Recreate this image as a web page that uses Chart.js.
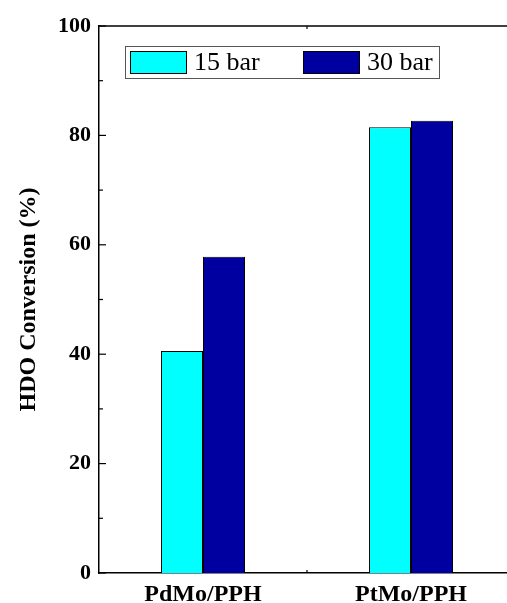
<!DOCTYPE html>
<html>
<head>
<meta charset="utf-8">
<script src="https://cdn.jsdelivr.net/npm/chart.js@4/dist/chart.umd.min.js"></script>
<style>
  html, body { margin: 0; padding: 0; background: #fff; overflow: hidden; }
  #wrap { width: 530px; height: 603px; }
</style>
</head>
<body>
<div id="wrap"><canvas id="myChart" width="530" height="603"></canvas></div>
<script>
'use strict';

// data
var categories = ['PdMo/PPH', 'PtMo/PPH'];
var seriesNames = ['15 bar', '30 bar'];
var bar15 = [40.6, 81.5];
var bar30 = [57.8, 82.7];
var seriesColors = ['#00ffff', '#0000a0'];
var yMin = 0;
var yMax = 100;
var yStep = 20;

var serif = '"Liberation Serif", "Times New Roman", serif';

// inward ticks, top frame line and the boxed legend
var framePlugin = {
  id: 'frame',
  afterDraw: function (chart) {
    var ctx = chart.ctx;
    var area = chart.chartArea;
    var y = chart.scales.y;
    var x = chart.scales.x;
    ctx.save();
    ctx.strokeStyle = '#000';
    ctx.lineWidth = 1.5;
    ctx.beginPath();
    ctx.moveTo(area.left, area.top);
    ctx.lineTo(area.right, area.top);
    ctx.stroke();

    ctx.lineWidth = 1.2;
    for (var v = yMin; v <= yMax; v += yStep / 2) {
      var py = y.getPixelForValue(v);
      var len = (v % yStep === 0) ? 7 : 4;
      ctx.beginPath();
      ctx.moveTo(area.left, py);
      ctx.lineTo(area.left + len, py);
      ctx.stroke();
    }
    // category boundary ticks
    var bx = (x.getPixelForValue(0) + x.getPixelForValue(1)) / 2;
    ctx.beginPath();
    ctx.moveTo(bx, area.bottom);
    ctx.lineTo(bx, area.bottom - 3);
    ctx.moveTo(bx, area.top);
    ctx.lineTo(bx, area.top + 3);
    ctx.stroke();

    // legend box
    ctx.lineWidth = 1;
    ctx.strokeStyle = '#555';
    ctx.strokeRect(125.5, 46.5, 314, 32);
    var swX = [130, 303];
    var ds = chart.data.datasets;
    ctx.font = '26px ' + serif;
    ctx.textBaseline = 'middle';
    ctx.textAlign = 'left';
    for (var i = 0; i < ds.length; i++) {
      ctx.fillStyle = ds[i].backgroundColor;
      ctx.fillRect(swX[i], 51, 56, 22);
      ctx.strokeStyle = '#000';
      ctx.strokeRect(swX[i] + 0.5, 51.5, 56, 22);
      ctx.fillStyle = '#000';
      ctx.fillText(ds[i].label, swX[i] + 64, 63);
    }
    ctx.restore();
  }
};

var ctx = document.getElementById('myChart').getContext('2d');

var chart = new Chart(ctx, {
  type: 'bar',
  data: {
    labels: categories,
    datasets: [{
      label: seriesNames[0],
      data: bar15,
      backgroundColor: seriesColors[0],
      borderColor: '#000',
      borderWidth: 1
    },
    {
      label: seriesNames[1],
      data: bar30,
      backgroundColor: seriesColors[1],
      borderColor: '#000',
      borderWidth: 1
    }]
  },
  options: {
    responsive: false,
    animation: false,
    devicePixelRatio: 1,
    layout: { padding: { left: 0, top: 26, right: 15, bottom: 0 } },
    plugins: {
      legend: { display: false },
      tooltip: { enabled: false }
    },
    datasets: {
      bar: { categoryPercentage: 0.404, barPercentage: 1.0 }
    },
    scales: {
      x: {
        grid: { display: false, drawTicks: false },
        border: { display: true, color: '#000', width: 1.5 },
        ticks: {
          color: '#000',
          padding: 7,
          font: { family: serif, size: 24, weight: 'bold' }
        },
        afterFit: function (scale) { scale.height = 30; }
      },
      y: {
        min: yMin,
        max: yMax,
        grid: { display: false, drawTicks: false },
        border: { display: true, color: '#000', width: 1.5 },
        ticks: {
          stepSize: yStep,
          color: '#000',
          padding: 8,
          font: { family: serif, size: 22, weight: 'bold' }
        },
        title: {
          display: true,
          text: 'HDO Conversion (%)',
          color: '#000',
          padding: { top: 14, bottom: 0 },
          font: { family: serif, size: 24, weight: 'bold' }
        },
        afterFit: function (scale) { scale.width = 99; }
      }
    }
  },
  plugins: [framePlugin]
});
</script>
</body>
</html>
